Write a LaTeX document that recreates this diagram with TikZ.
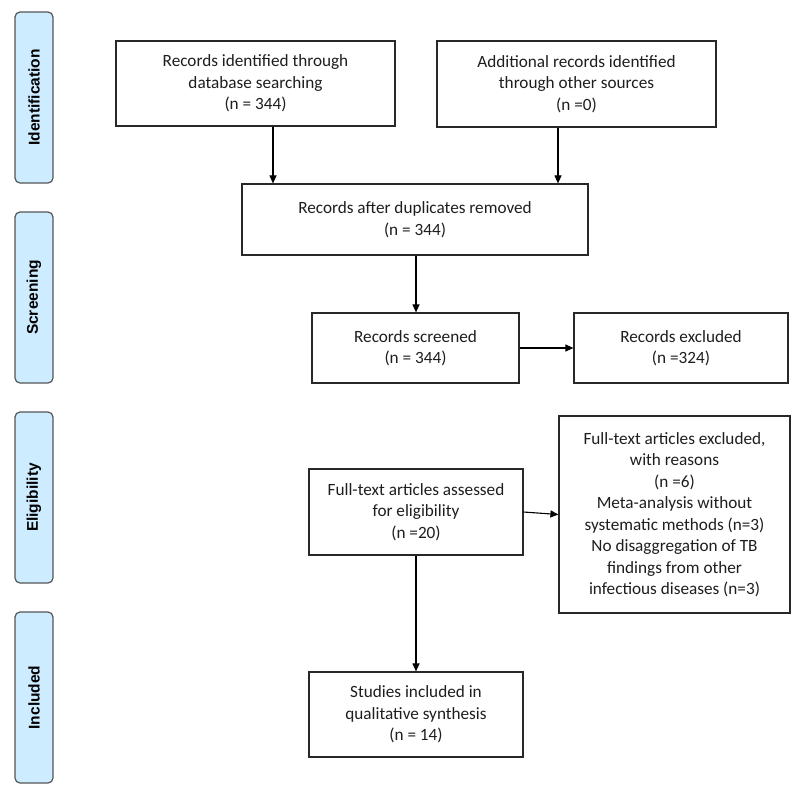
\documentclass[tikz,border=0pt]{standalone}
\usepackage{fontspec}
\setmainfont{Carlito}
\newfontfamily\tabfont{Liberation Sans}
\usetikzlibrary{arrows.meta,calc}
\definecolor{tabfill}{RGB}{206,236,255}
\definecolor{tabline}{RGB}{85,85,85}
\definecolor{txt}{RGB}{30,30,30}
\definecolor{boxline}{RGB}{40,40,40}
\begin{document}
\begin{tikzpicture}[x=1pt,y=-1pt,
  box/.style={draw=boxline,line width=1.2pt,fill=white,align=center,inner sep=2pt,
    text=txt,font=\fontsize{17.2}{21.5}\selectfont},
  phasetab/.style={draw=tabline,line width=1.2pt,fill=tabfill,rounded corners=5pt,
    minimum width=171pt,minimum height=38pt,rotate=90,text=black,
    font=\tabfont\bfseries\fontsize{15.5}{18}\selectfont},
  arr/.style={draw=black,line width=1.1pt,-{Triangle[length=8pt,width=7pt]}}]
\useasboundingbox (0,0) rectangle (799,793);
% phase tabs
\node[phasetab] (t1) at (34,97.5) {Identification};
\node[phasetab] (t2) at (34,297.5) {Screening};
\node[phasetab] (t3) at (34,497.5) {Eligibility};
\node[phasetab] (t4) at (34,697.5) {Included};
% boxes
\node[box,minimum width=279pt,minimum height=85pt] (b1) at (255.5,83.5)
  {Records identified through\\database searching\\(n = 344)};
\node[box,minimum width=279pt,minimum height=86pt] (b2) at (576.5,84)
  {Additional records identified\\through other sources\\(n =0)};
\node[box,minimum width=346pt,minimum height=71pt] (b3) at (415,219.5)
  {Records after duplicates removed\\(n = 344)};
\node[box,minimum width=207pt,minimum height=70pt] (b4) at (415.5,348)
  {Records screened\\(n = 344)};
\node[box,minimum width=214pt,minimum height=70pt] (b5) at (681,348)
  {Records excluded\\(n =324)};
\node[box,minimum width=214pt,minimum height=86pt] (b6) at (416,512)
  {Full-text articles assessed\\for eligibility\\(n =20)};
\node[box,minimum width=231pt,minimum height=197pt] (b7) at (674.5,514.5)
  {Full-text articles excluded,\\with reasons\\(n =6)\\Meta-analysis without\\systematic methods (n=3)\\No disaggregation of TB\\findings from other\\infectious diseases (n=3)};
\node[box,minimum width=214pt,minimum height=85pt] (b8) at (416,714.5)
  {Studies included in\\qualitative synthesis\\(n = 14)};
% connector anchors
\coordinate (c1) at (273,0);
\coordinate (c2) at (558,0);
\coordinate (c3) at (416,0);
% connectors
\draw[arr] (b1.south -| c1) -- (b3.north -| c1);
\draw[arr] (b2.south -| c2) -- (b3.north -| c2);
\draw[arr] (b3.south -| c3) -- (b4.north -| c3);
\draw[arr] (b4.east) -- (b5.west);
\draw[arr] (b6.east) -- (b7.west);
\draw[arr] (b6.south -| c3) -- (b8.north -| c3);
\end{tikzpicture}
\end{document}
